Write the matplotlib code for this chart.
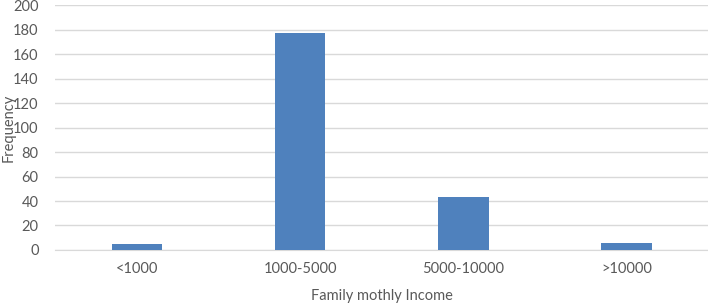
import matplotlib
matplotlib.use("Agg")
import matplotlib.pyplot as plt

# data
categories = ["<1000", "1000-5000", "5000-10000", ">10000"]
frequency = [5, 177, 43, 6]
y_ticks = [0, 20, 40, 60, 80, 100, 120, 140, 160, 180, 200]

plt.rcParams["font.family"] = ["Lato", "DejaVu Sans"]
text_color = "#595959"

fig = plt.figure(figsize=(7.08, 3.03), dpi=100)
ax = fig.add_axes([0.078, 0.175, 0.922, 0.808])

x = list(range(len(categories)))
ax.bar(x, frequency, width=0.31, color="#4F81BD", zorder=3)

ax.set_xlim(-0.5, len(categories) - 0.5)
ax.set_ylim(0, 200)
ax.set_yticks(y_ticks)
ax.set_xticks(x)
ax.set_xticklabels(categories)

ax.grid(axis="y", color="#D9D9D9", linewidth=1, zorder=0)
for side in ["top", "right", "left"]:
    ax.spines[side].set_visible(False)
ax.spines["bottom"].set_color("#D9D9D9")
ax.tick_params(length=0, labelsize=10.5, colors=text_color)
ax.tick_params(axis="x", pad=9)
ax.tick_params(axis="y", pad=12)

ax.set_xlabel("Family mothly Income", fontsize=10.5, color=text_color, labelpad=9)
ax.set_ylabel("Frequency", fontsize=10.5, color=text_color,
              va="center", ha="center")
ax.yaxis.set_label_coords(-0.072, 0.5)

fig.savefig("out.png", dpi=100)
